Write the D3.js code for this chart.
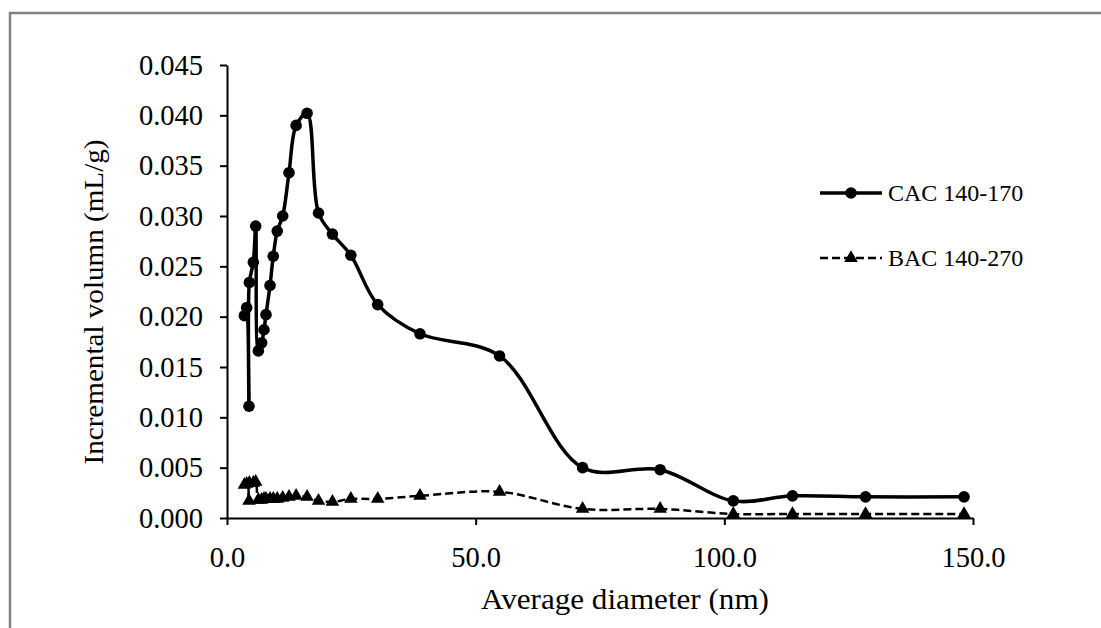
<!DOCTYPE html>
<html>
<head>
<meta charset="utf-8">
<script src="https://cdn.jsdelivr.net/npm/d3@7"></script>
<style>
  body { margin: 0; background: #ffffff; }
  text { font-family: "Liberation Serif", "Times New Roman", serif; fill: #000; }
</style>
</head>
<body>
<div id="chart"></div>
<script>
// pore size distribution
var diameters = [3.5, 3.96, 4.42, 4.5, 5.3, 5.77, 6.3, 6.97, 7.44, 7.84, 8.65, 9.3, 10.1, 11.2, 12.47, 13.9, 16.1,
                 18.4, 21.2, 24.9, 30.3, 38.8, 54.8, 71.5, 87.1, 101.8, 113.7, 128.4, 148.2];
var cacValues = [0.0201, 0.0209, 0.0111, 0.0234, 0.0254, 0.0290, 0.0166, 0.0174, 0.0187, 0.0202, 0.0231, 0.0260,
                 0.0285, 0.0300, 0.0343, 0.0390, 0.0402, 0.0303, 0.0282, 0.0261, 0.0212, 0.0183, 0.0161, 0.0050,
                 0.0048, 0.0017, 0.0022, 0.0021, 0.0021];
var bacValues = [0.0033, 0.0034, 0.0017, 0.0035, 0.0035, 0.0036, 0.0018, 0.0018, 0.0019, 0.0019, 0.0019, 0.0019,
                 0.0019, 0.0020, 0.0021, 0.0022, 0.0021, 0.0017, 0.0016, 0.0019, 0.0019, 0.0022, 0.0026, 0.0009,
                 0.0009, 0.0004, 0.0004, 0.0004, 0.0004];
var seriesNames = ["CAC 140-170", "BAC 140-270"];
var xTicks = [0, 50, 100, 150];
var yTicks = [0, 0.005, 0.01, 0.015, 0.02, 0.025, 0.03, 0.035, 0.04, 0.045];

function init(){

    var w = 1101;
    var h = 628;
    var left = 227, right = 973, top = 65, bottom = 518;

    var svg = d3.select("#chart")
                .append("svg")
                .attr("width", w)
                .attr("height", h);

    // grey frame of the original figure, runs off the page
    svg.append("rect")
       .attr("x", 10).attr("y", 13)
       .attr("width", 1300).attr("height", 800)
       .attr("fill", "none")
       .attr("stroke", "#808080")
       .attr("stroke-width", 2.5);

    var x = d3.scaleLinear().domain([0, 150]).range([left, right]);
    var y = d3.scaleLinear().domain([0, 0.045]).range([bottom, top]);

    var xAxis = svg.append("g")
                   .attr("transform", "translate(0," + bottom + ")")
                   .call(d3.axisBottom(x).tickValues(xTicks).tickSize(7).tickSizeOuter(0).tickPadding(22)
                           .tickFormat(d3.format(".1f")));

    var yAxis = svg.append("g")
                   .attr("transform", "translate(" + left + ",0)")
                   .call(d3.axisLeft(y).tickValues(yTicks).tickSize(7).tickSizeOuter(0).tickPadding(17)
                           .tickFormat(d3.format(".3f")));

    [xAxis, yAxis].forEach(function(g){
        g.select(".domain").attr("stroke", "#000").attr("stroke-width", 2);
        g.selectAll(".tick line").attr("stroke", "#000").attr("stroke-width", 2);
        g.selectAll(".tick text")
         .style("font-family", "'Liberation Serif', serif")
         .style("font-size", "28.5px")
         .attr("fill", "#000");
    });

    var cacData = diameters.map(function(d, i){ return [d, cacValues[i]]; });
    var bacData = diameters.map(function(d, i){ return [d, bacValues[i]]; });

    var line = d3.line()
                 .x(function(d){ return x(d[0]); })
                 .y(function(d){ return y(d[1]); })
                 .curve(d3.curveCatmullRom.alpha(0.5));

    svg.append("path")
       .datum(bacData)
       .attr("d", line)
       .attr("fill", "none")
       .attr("stroke", "#000")
       .attr("stroke-width", 2.5)
       .attr("stroke-dasharray", "8,4");

    svg.append("path")
       .datum(cacData)
       .attr("d", line)
       .attr("fill", "none")
       .attr("stroke", "#000")
       .attr("stroke-width", 3.5);

    var tri = d3.symbol().type(d3.symbolTriangle).size(80);

    svg.selectAll("path.tri")
       .data(bacData)
       .enter()
       .append("path")
       .attr("class", "tri")
       .attr("d", tri)
       .attr("transform", function(d){ return "translate(" + x(d[0]) + "," + y(d[1]) + ")"; })
       .attr("fill", "#000");

    svg.selectAll("circle.dot")
       .data(cacData)
       .enter()
       .append("circle")
       .attr("class", "dot")
       .attr("cx", function(d){ return x(d[0]); })
       .attr("cy", function(d){ return y(d[1]); })
       .attr("r", 5.8)
       .attr("fill", "#000");

    // legend
    var legend = svg.append("g").attr("transform", "translate(820,193)");
    legend.append("line").attr("x1", 0).attr("x2", 62).attr("y1", 0).attr("y2", 0)
          .attr("stroke", "#000").attr("stroke-width", 3.5);
    legend.append("circle").attr("cx", 31).attr("cy", 0).attr("r", 5.8).attr("fill", "#000");
    legend.append("line").attr("x1", 0).attr("x2", 62).attr("y1", 65).attr("y2", 65)
          .attr("stroke", "#000").attr("stroke-width", 2.5).attr("stroke-dasharray", "8,4");
    legend.append("path").attr("d", tri).attr("transform", "translate(31,65)").attr("fill", "#000");
    legend.selectAll("text.lab")
          .data(seriesNames)
          .enter()
          .append("text")
          .attr("class", "lab")
          .attr("x", 68)
          .attr("y", function(d, i){ return i * 65 + 8; })
          .style("font-size", "24px")
          .text(function(d){ return d; });

    svg.append("text")
       .attr("x", 625)
       .attr("y", 609)
       .attr("text-anchor", "middle")
       .attr("textLength", 288)
       .attr("lengthAdjust", "spacingAndGlyphs")
       .style("font-size", "29px")
       .text("Average diameter (nm)");

    svg.append("text")
       .attr("transform", "translate(103,302) rotate(-90)")
       .attr("text-anchor", "middle")
       .attr("textLength", 325)
       .attr("lengthAdjust", "spacingAndGlyphs")
       .style("font-size", "28px")
       .text("Incremental volumn (mL/g)");
}

window.onload = init;
</script>
</body>
</html>
